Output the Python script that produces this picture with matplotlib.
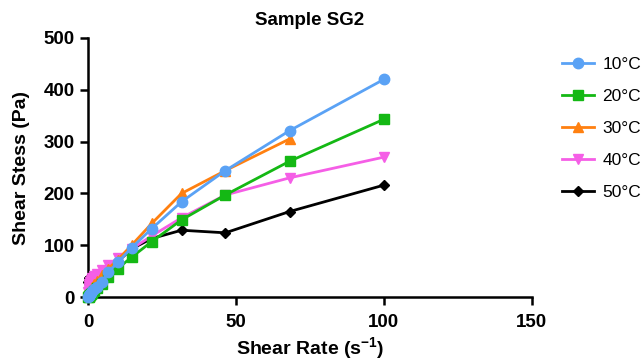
import matplotlib
matplotlib.use("Agg")
import matplotlib.pyplot as plt

plt.rcParams['font.family'] = ['Liberation Sans', 'DejaVu Sans']
plt.rcParams['mathtext.fontset'] = 'custom'
plt.rcParams['mathtext.rm'] = 'Liberation Sans'
plt.rcParams['mathtext.bf'] = 'Liberation Sans:bold'

# shear rates (s^-1), 6 points per decade
shear_rate = [0.1, 0.147, 0.215, 0.316, 0.464, 0.681, 1.0, 1.47, 2.15, 3.16,
              4.64, 6.81, 10.0, 14.7, 21.5, 31.6, 46.4, 68.1, 100.0]

stress_10 = [1, 1.5, 2, 3, 4, 6, 8, 11, 15, 20, 30, 48, 67, 95, 132, 184, 244, 321, 420]
stress_20 = [0.5, 1, 1.5, 2, 3, 4, 6, 8, 12, 17, 26, 39, 55, 77, 107, 149, 197, 262, 343]
stress_30 = [2, 3, 4, 6, 8, 11, 14, 19, 25, 32, 42, 55, 72, 100, 142, 200, 244, 305, None]
stress_40 = [10, 14, 18, 22, 26, 30, 33, 37, 41, 45, 52, 62, 75, 93, 118, 153, 197, 230, 270]
stress_50 = [30, 33, 35, 36, 37, 38, 39, 40, 42, 44, 48, 56, 68, 93, 113, 129, 124, 165, 216]

labels = ['10°C', '20°C', '30°C', '40°C', '50°C']
colors = ['#5aa2f5', '#14b814', '#ff8010', '#f55ee6', '#000000']
markers = ['o', 's', '^', 'v', 'D']
msizes = [7.5, 7, 7.5, 7.5, 5]

series = [stress_10, stress_20, stress_30, stress_40, stress_50]

fig = plt.figure(figsize=(6.43, 3.61), dpi=100)
ax = fig.add_axes([0.137, 0.177, 0.690, 0.718])

for i in range(len(series)):
    xs = [x for x, y in zip(shear_rate, series[i]) if y is not None]
    ys = [y for y in series[i] if y is not None]
    ax.plot(xs, ys, marker=markers[i], color=colors[i], markersize=msizes[i],
            linewidth=2, label=labels[i], zorder=10 - i, clip_on=False)

ax.set_xlim(0, 150)
ax.set_ylim(0, 500)
ax.set_xticks([0, 50, 100, 150])
ax.set_yticks([0, 100, 200, 300, 400, 500])
for s in ['top', 'right']:
    ax.spines[s].set_visible(False)
for s in ['left', 'bottom']:
    ax.spines[s].set_linewidth(1.8)
ax.tick_params(direction='out', width=1.8, length=6, labelsize=13.5)
ax.tick_params(axis='x', pad=6)
for lab in ax.get_xticklabels() + ax.get_yticklabels():
    lab.set_fontweight('bold')

ax.set_title('Sample SG2', fontsize=13.5, fontweight='bold', pad=9)
ax.set_xlabel('Shear Rate (s$^{\\mathbf{-1}}$)', fontsize=14, fontweight='bold', labelpad=3)
ax.set_ylabel('Shear Stess (Pa)', fontsize=14, fontweight='bold', labelpad=10)

ax.legend(loc='upper left', bbox_to_anchor=(1.032, 0.986), frameon=False,
          fontsize=12.5, handlelength=1.84, labelspacing=0.96, handletextpad=0.5)

fig.savefig('out.png', dpi=100)
